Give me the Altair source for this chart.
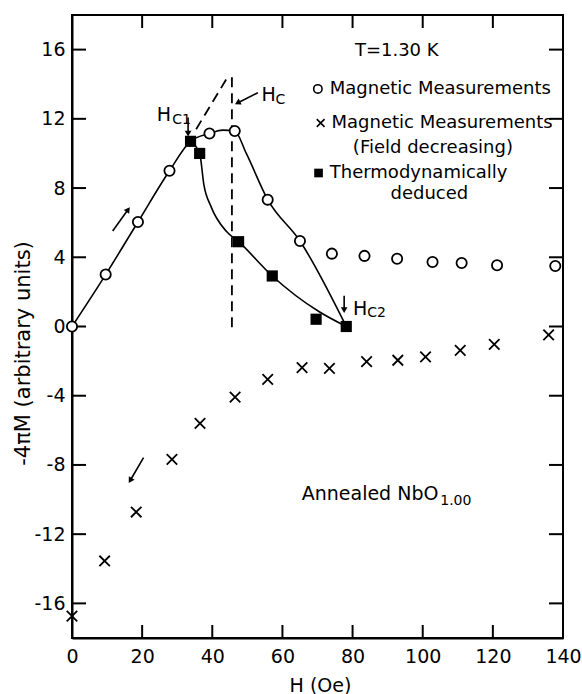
import altair as alt
import pandas as pd

FONT = "DejaVu Sans"

# ---- data ----
inc_H = [0, 9.6, 18.8, 27.8, 39.2, 46.4, 55.8, 65.0, 74.1, 83.4, 92.7, 102.8, 111.1, 121.2, 137.8]
inc_M = [0, 3.0, 6.04, 9.0, 11.15, 11.3, 7.33, 4.94, 4.21, 4.08, 3.92, 3.73, 3.67, 3.54, 3.5]

dec_H = [0, 9.3, 18.3, 28.5, 36.5, 46.5, 55.8, 65.6, 73.4, 84.0, 92.9, 100.8, 110.7, 120.4, 135.9]
dec_M = [-16.73, -13.55, -10.72, -7.68, -5.6, -4.08, -3.05, -2.38, -2.42, -2.03, -1.95, -1.76, -1.38, -1.03, -0.49]

thermo_H = [33.8, 36.4, 47.5, 57.1, 69.6, 78.2]
thermo_M = [10.7, 10.0, 4.9, 2.92, 0.42, 0.0]

curve1_H = [0, 9.6, 18.8, 27.8, 33.8, 39.2, 43.0, 46.4, 49.7, 55.8, 65.0, 78.2]
curve1_M = [0, 3.0, 6.04, 9.0, 10.7, 11.15, 11.35, 11.3, 10.0, 7.33, 4.94, 0.0]

curve2_H = [33.8, 36.4, 37.6, 39.7, 44.0, 47.5, 57.1, 70.5, 78.2]
curve2_M = [10.7, 10.0, 8.2, 6.9, 5.5, 4.9, 2.92, 0.85, 0.0]

x_ticks = [0, 20, 40, 60, 80, 100, 120, 140]
y_ticks = [-16, -12, -8, -4, 0, 4, 8, 12, 16]

X_DOM = [0, 140]
Y_DOM = [-18, 18]

xs = alt.Scale(domain=X_DOM, nice=False, zero=False)
ys = alt.Scale(domain=Y_DOM, nice=False, zero=False)

X_AXIS = alt.Axis(values=x_ticks, ticks=False, domainColor="black", domainWidth=2,
                  labelFont=FONT, labelFontSize=19, labelColor="black", labelPadding=9,
                  labelFlush=False, labelOverlap=False, grid=False,
                  titleFont=FONT, titleFontSize=19, titleFontWeight="normal", titleColor="black",
                  titleX=248, titleY=47, titleBaseline="middle", titleAlign="center")
Y_AXIS = alt.Axis(values=y_ticks, ticks=False, domainColor="black", domainWidth=2,
                  labelFont=FONT, labelFontSize=19, labelColor="black", labelPadding=7,
                  labelFlush=False, labelOverlap=False, grid=False,
                  labelExpr="toString(datum.value)",
                  titleFont=FONT, titleFontSize=21, titleFontWeight="normal", titleColor="black",
                  titleX=-49, titleY=338, titleBaseline="middle", titleAlign="center")

X_TITLE = "H (Oe)"
Y_TITLE = "-4πM (arbitrary units)"

def X(field="H"):
    return alt.X(f"{field}:Q", scale=xs, axis=X_AXIS, title=X_TITLE)

def Y(field="M"):
    return alt.Y(f"{field}:Q", scale=ys, axis=Y_AXIS, title=Y_TITLE)

inc = pd.DataFrame({"H": inc_H, "M": inc_M})
dec = pd.DataFrame({"H": dec_H, "M": dec_M})
thermo = pd.DataFrame({"H": thermo_H, "M": thermo_M})
c1 = pd.DataFrame({"H": curve1_H, "M": curve1_M})
c2 = pd.DataFrame({"H": curve2_H, "M": curve2_M})

# inward ticks drawn as rules
tick_rows = []
for v in y_ticks:
    tick_rows.append({"H": 0, "H2": 4.0, "M": v, "M2": v})
    tick_rows.append({"H": 140, "H2": 136.0, "M": v, "M2": v})
for v in x_ticks[1:-1]:
    tick_rows.append({"H": v, "H2": v, "M": -18, "M2": -17.25})
    tick_rows.append({"H": v, "H2": v, "M": 18, "M2": 17.25})
ticks = alt.Chart(pd.DataFrame(tick_rows)).mark_rule(color="black", strokeWidth=2).encode(
    x=X("H"), x2="H2", y=Y("M"), y2="M2")

line1 = alt.Chart(c1).mark_line(color="black", strokeWidth=1.6, interpolate="monotone").encode(x=X(), y=Y())
line2 = alt.Chart(c2).mark_line(color="black", strokeWidth=1.6, interpolate="monotone").encode(x=X(), y=Y())

# dashed lines
dash_df = pd.DataFrame({"H": [45.6, 35.4], "H2": [45.6, 44.4], "M": [-0.05, 11.4], "M2": [14.5, 14.42]})
dashes = alt.Chart(dash_df).mark_rule(color="black", strokeWidth=1.8, strokeDash=[10, 6]).encode(
    x=X("H"), x2="H2", y=Y("M"), y2="M2")

CROSS = "M-1,-1L1,1M-1,1L1,-1"

circles = alt.Chart(inc).mark_point(shape="circle", filled=True, fill="white", stroke="black",
                                    strokeWidth=1.8, size=105, opacity=1).encode(x=X(), y=Y())
crosses = alt.Chart(dec).mark_point(shape=CROSS, filled=False, stroke="black",
                                    strokeWidth=1.8, size=110, opacity=1).encode(x=X(), y=Y())
squares = alt.Chart(thermo).mark_point(shape="square", filled=True, color="black",
                                       size=125, opacity=1).encode(x=X(), y=Y())

# arrows: shafts and heads
shaft_df = pd.DataFrame({
    "H": [11.6, 20.4, 33.1, 53.0, 77.6],
    "M": [5.52, -7.58, 12.07, 13.51, 1.77],
    "H2": [16.0, 16.6, 33.1, 47.2, 77.6],
    "M2": [6.76, -8.9, 11.15, 12.92, 0.95],
})
shafts = alt.Chart(shaft_df).mark_rule(color="black", strokeWidth=1.6).encode(
    x=X("H"), x2="H2", y=Y("M"), y2="M2")

heads_df = pd.DataFrame({
    "H": [16.0, 16.6, 33.1, 47.2, 77.6],
    "M": [6.76, -8.9, 11.15, 12.92, 0.95],
    "shape": ["triangle-up", "triangle-down", "triangle-down", "triangle-left", "triangle-down"],
    "angle": [35, 31, 0, 333, 0],
})
heads = alt.Chart(heads_df).mark_point(filled=True, color="black", size=45, opacity=1).encode(
    x=X(), y=Y(),
    shape=alt.Shape("shape:N", scale=None, legend=None),
    angle=alt.Angle("angle:Q", scale=None),
)

# legend-like symbols drawn in the plot
leg_c = alt.Chart(pd.DataFrame({"H": [70.1], "M": [13.73]})).mark_point(
    shape="circle", filled=False, stroke="black", strokeWidth=1.6, size=70, opacity=1).encode(x=X(), y=Y())
leg_x = alt.Chart(pd.DataFrame({"H": [70.9], "M": [11.76]})).mark_point(
    shape=CROSS, filled=False, stroke="black", strokeWidth=1.6, size=60, opacity=1).encode(x=X(), y=Y())
leg_s = alt.Chart(pd.DataFrame({"H": [70.3], "M": [8.87]})).mark_point(
    shape="square", filled=True, color="black", size=75, opacity=1).encode(x=X(), y=Y())

def texts(rows, size, align):
    df = pd.DataFrame(rows, columns=["H", "M", "t"])
    return alt.Chart(df).mark_text(font=FONT, fontSize=size, align=align, baseline="middle",
                                   color="black").encode(x=X(), y=Y(), text="t:N")

legend_center = texts([
    [92.6, 15.9, "T=1.30 K"],
    [102.9, 10.3, "(Field decreasing)"],
    [101.9, 7.66, "deduced"],
], 18, "center")
legend_left = texts([
    [73.5, 13.73, "Magnetic Measurements"],
    [74.0, 11.76, "Magnetic Measurements"],
    [73.5, 8.87, "Thermodynamically"],
], 18, "left")

big_labels = texts([
    [65.5, -9.68, "Annealed NbO"],
    [24.2, 12.23, "H"],
    [54.0, 13.38, "H"],
    [80.1, 1.04, "H"],
], 19, "left")
sub_labels = texts([
    [105.0, -10.1, "1.00"],
    [28.6, 11.95, "C1"],
    [58.0, 13.1, "C"],
    [84.2, 0.8, "C2"],
], 14, "left")

chart = alt.layer(
    ticks, dashes, line1, line2, shafts, heads,
    crosses, circles, squares, leg_c, leg_x, leg_s,
    legend_center, legend_left, big_labels, sub_labels,
).properties(
    width=491, height=623,
    autosize=alt.AutoSizeParams(type="none"),
    padding={"left": 72, "top": 15, "right": 19, "bottom": 56},
).configure_view(stroke="black", strokeWidth=2)

chart.save("out.html", embed_options={"renderer": "svg", "actions": False})
